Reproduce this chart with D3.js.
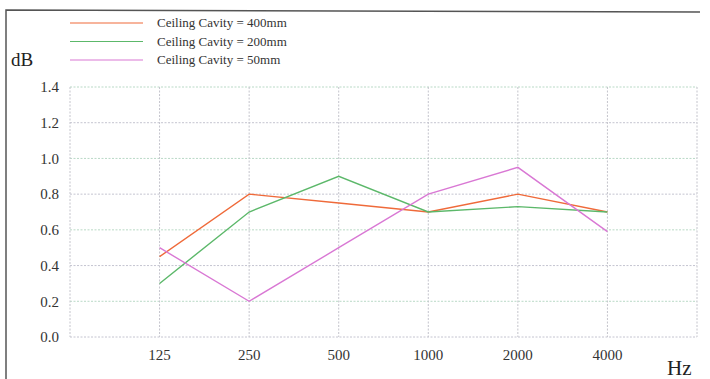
<!DOCTYPE html>
<html>
<head>
<meta charset="utf-8">
<script src="https://cdn.jsdelivr.net/npm/d3@7"></script>
<style>
  body { margin: 0; background: #fff; }
  svg text { font-family: "Liberation Serif", "DejaVu Serif", serif !important; }
</style>
</head>
<body>
<svg id="chart" width="710" height="379"></svg>
<script>
const freqs = ["125", "250", "500", "1000", "2000", "4000"];
const yTicks = [0, 0.2, 0.4, 0.6, 0.8, 1.0, 1.2, 1.4];
const cavity400 = [0.45, 0.80, 0.75, 0.70, 0.80, 0.70];
const cavity200 = [0.30, 0.70, 0.90, 0.70, 0.73, 0.70];
const cavity50 = [0.50, 0.20, 0.50, 0.80, 0.95, 0.59];
const seriesNames = ["Ceiling Cavity = 400mm", "Ceiling Cavity = 200mm", "Ceiling Cavity = 50mm"];

const series = [
    {name: seriesNames[0], values: cavity400, color: "#ef6a3a"},
    {name: seriesNames[1], values: cavity200, color: "#5cb86a"},
    {name: seriesNames[2], values: cavity50, color: "#d978d4"}
];

const svg = d3.select("#chart");
const margin = {top: 87, right: 13, bottom: 42, left: 70};
const width = 710 - margin.right;
const height = 379 - margin.bottom;

// frame from the scanned page
svg.append("path")
    .attr("d", "M6,379 L6,10 L700,12")
    .attr("fill", "none")
    .attr("stroke", "#555")
    .attr("stroke-width", 1.5);

// categories sit at slots 1..6 of a 0..7 span
const x = d3.scaleLinear()
    .domain([0, freqs.length + 1])
    .range([margin.left, width]);

const y = d3.scaleLinear()
    .domain([0, 1.4])
    .range([height, margin.top]);

const grid = svg.append("g");
grid.selectAll(".h")
    .data(yTicks)
    .enter()
    .append("line")
    .attr("x1", margin.left)
    .attr("x2", width)
    .attr("y1", d => y(d))
    .attr("y2", d => y(d))
    .attr("stroke", (d, i) => i % 2 ? "#b9d9c6" : "#c4c4d0")
    .attr("stroke-dasharray", "2,1.5");

grid.selectAll(".v")
    .data(d3.range(0, freqs.length + 2))
    .enter()
    .append("line")
    .attr("x1", d => x(d))
    .attr("x2", d => x(d))
    .attr("y1", margin.top)
    .attr("y2", height)
    .attr("stroke", "#c4c4cc")
    .attr("stroke-dasharray", "2,1.5");

// y tick labels
svg.append("g")
    .attr("transform", `translate(${margin.left - 8},0)`)
    .call(d3.axisLeft(y).tickValues(yTicks).tickFormat(d3.format(".1f")).tickSize(0))
    .call(g => g.select(".domain").remove())
    .selectAll("text")
    .attr("font-size", 15)
    .attr("fill", "#333");

// x tick labels
svg.append("g")
    .selectAll("text")
    .data(freqs)
    .enter()
    .append("text")
    .attr("x", (d, i) => x(i + 1))
    .attr("y", height + 23)
    .attr("text-anchor", "middle")
    .attr("font-size", 15)
    .attr("fill", "#333")
    .text(d => d);

svg.append("text")
    .attr("x", 11)
    .attr("y", 66)
    .attr("font-size", 19)
    .attr("fill", "#222")
    .text("dB");

svg.append("text")
    .attr("x", 667)
    .attr("y", 375)
    .attr("font-size", 21)
    .attr("fill", "#222")
    .text("Hz");

const line = d3.line()
    .x((d, i) => x(i + 1))
    .y(d => y(d));

svg.selectAll(".series")
    .data(series)
    .enter()
    .append("path")
    .attr("d", d => line(d.values))
    .attr("fill", "none")
    .attr("stroke", d => d.color)
    .attr("stroke-width", 1.4);

// legend
const legend = svg.append("g");
const ly = d3.scalePoint().domain(seriesNames).range([23, 60]);
legend.selectAll("line")
    .data(series)
    .enter()
    .append("line")
    .attr("x1", 70)
    .attr("x2", 143)
    .attr("y1", d => ly(d.name))
    .attr("y2", d => ly(d.name))
    .attr("stroke", d => d.color)
    .attr("stroke-width", 1.2);
legend.selectAll("text")
    .data(series)
    .enter()
    .append("text")
    .attr("x", 157)
    .attr("y", d => ly(d.name) + 4)
    .attr("font-size", 13)
    .attr("fill", "#333")
    .text(d => d.name);
</script>
</body>
</html>
